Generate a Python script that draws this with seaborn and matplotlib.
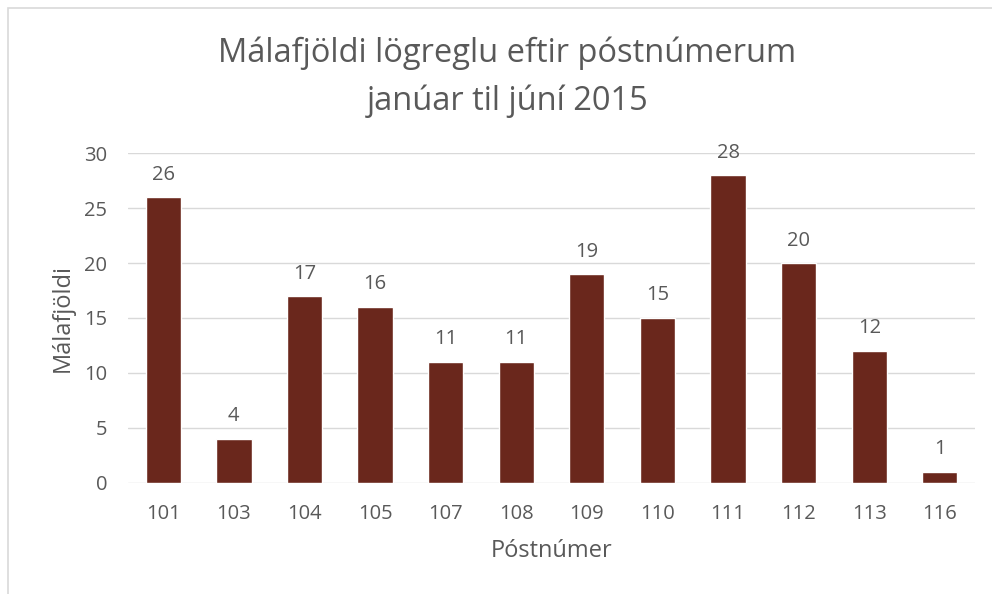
import matplotlib
matplotlib.use("Agg")
import matplotlib.pyplot as plt
import pandas as pd
import seaborn as sns
from matplotlib.patches import Rectangle

postnumer = ["101", "103", "104", "105", "107", "108", "109", "110", "111", "112", "113", "116"]
malafjoldi = [26, 4, 17, 16, 11, 11, 19, 15, 28, 20, 12, 1]

df = pd.DataFrame({"Póstnúmer": postnumer, "Málafjöldi": malafjoldi})

sns.set_theme(style="white")
plt.rcParams["font.family"] = ["Open Sans", "DejaVu Sans"]
text_color = "#595959"
bar_color = "#6A271C"

fig = plt.figure(figsize=(9.92, 5.94), dpi=100)
ax = fig.add_axes([0.129, 0.1869, 0.854, 0.5555])

sns.barplot(data=df, x="Póstnúmer", y="Málafjöldi", color=bar_color,
            width=0.5, saturation=1, ax=ax)

ax.set_ylim(0, 30)
ax.set_xlim(-0.5, len(postnumer) - 0.5)
ax.set_yticks(range(0, 31, 5))
ax.yaxis.grid(True, color="#D9D9D9", linewidth=1)
ax.set_axisbelow(True)
for s in ax.spines.values():
    s.set_visible(False)

ax.tick_params(axis="both", length=0, labelsize=14.5, labelcolor=text_color)
ax.tick_params(axis="y", pad=15)
ax.tick_params(axis="x", pad=15)

ax.bar_label(ax.containers[0], padding=9, fontsize=14.5, color=text_color)

ax.set_xlabel("Póstnúmer", fontsize=17, color=text_color, labelpad=11)
ax.set_ylabel("Málafjöldi", fontsize=17, color=text_color, labelpad=7)

fig.text(0.5116, 1 - 62 / 594, "Málafjöldi lögreglu eftir póstnúmerum",
         ha="center", va="baseline", fontsize=23.5, color=text_color)
fig.text(0.5116, 1 - 110 / 594, "janúar til júní 2015",
         ha="center", va="baseline", fontsize=23.5, color=text_color)

fig.patches.append(Rectangle((8 / 992, -0.1), 1.2, 1.1 - 8 / 594, transform=fig.transFigure,
                             fill=False, edgecolor="#D9D9D9", linewidth=1.2))

fig.savefig("out.png", dpi=100, facecolor="white")
